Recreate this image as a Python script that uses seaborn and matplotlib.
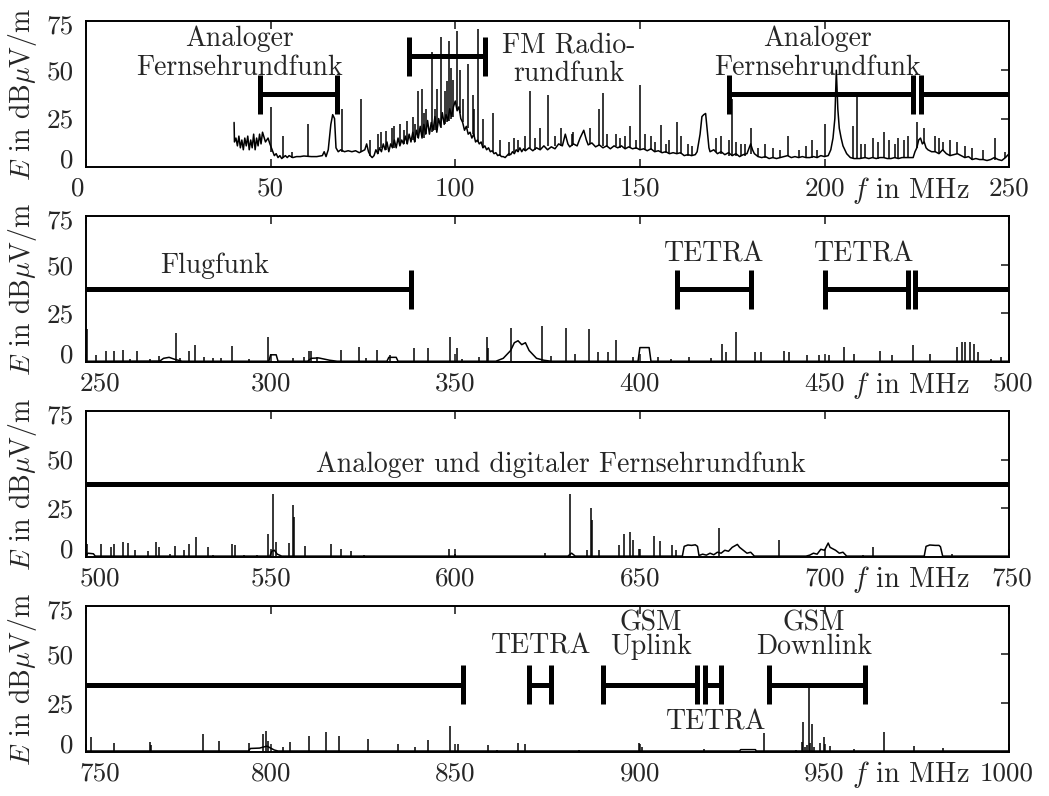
import numpy as np
import pandas as pd
import seaborn as sns
import matplotlib.pyplot as plt
import matplotlib.transforms as mtransforms

sns.set_style("ticks")
plt.rcParams['font.family'] = ['cmr10', 'DejaVu Serif']
plt.rcParams['mathtext.fontset'] = 'cm'
plt.rcParams['axes.formatter.use_mathtext'] = True
plt.rcParams['axes.unicode_minus'] = False

# frequency ranges of the four panels (MHz)
x_ranges = [(0, 250), (250, 500), (500, 750), (750, 1000)]
y_ticks = [0, 25, 50, 75]

# ---------------- panel 1: 0 - 250 MHz ----------------
p1_base = [
    (40.1, 23), (40.2, 13), (40.6, 15), (41, 11), (41.4, 16), (41.8, 10), (42.2, 14),
    (42.6, 9), (43, 15), (43.4, 11), (43.8, 16), (44.2, 9), (44.6, 14), (45, 10),
    (45.4, 17), (45.8, 9), (46.2, 15), (46.6, 11), (47, 17), (47.4, 12), (47.8, 18),
    (48.6, 13), (49.3, 15), (49.8, 12), (50.6, 8), (51, 6), (51.5, 7), (52, 5),
    (52.5, 6), (53, 4.5), (54, 6), (54.5, 5), (55, 6), (56, 5), (57, 5.5), (58, 5.5),
    (59, 5.8), (61, 5.5), (62.5, 5.5), (64, 6), (64.5, 8), (65, 5.5), (65.6, 9),
    (66.3, 22), (66.8, 27), (67.3, 25), (67.7, 10), (68.3, 8), (69, 9), (70, 8),
    (71, 8.5), (72, 8), (73, 8.5), (74, 7.5), (75.5, 9), (76, 12), (76.5, 8), (77, 6),
    (77.5, 5), (78, 6), (78.5, 9), (79, 7), (79.5, 10), (80, 8), (80.5, 12), (81, 9),
    (81.5, 13), (82, 8), (82.5, 12), (83, 10), (83.5, 14), (84, 10), (84.5, 15),
    (85, 11), (85.5, 14), (86, 12), (86.5, 16), (87, 12), (87.5, 17), (88, 13),
    (88.5, 18), (89, 13), (89.5, 19), (90, 15), (90.5, 21), (91, 15), (91.5, 22),
    (92, 17), (92.5, 24), (93, 17), (93.5, 23), (94, 19), (94.5, 26), (95, 18),
    (95.5, 25), (96, 21), (96.5, 28), (97, 22), (97.5, 27), (98, 24), (98.5, 30),
    (99, 26), (99.5, 31), (100, 34), (100.5, 29), (101, 31), (101.5, 25), (102, 23),
    (102.5, 19), (103, 21), (103.5, 17), (104, 18), (104.5, 15), (105, 17),
    (105.5, 13), (106, 14), (106.5, 12), (107, 13), (107.5, 10), (108, 11),
    (108.5, 9), (109, 10), (109.5, 8), (110, 8.5), (110.5, 7), (111, 7.5), (111.5, 6),
    (112, 6.5), (112.5, 5.5), (113, 5.5), (113.5, 5), (114, 6), (114.5, 7),
    (115, 6.5), (115.5, 8), (116, 7), (116.5, 9), (117, 8), (117.5, 10), (118, 8),
    (118.5, 9.5), (119, 8.5), (120, 10), (121, 8.5), (122, 10), (123, 9), (124, 11),
    (125, 9), (126, 10.5), (127, 9.5), (128, 12), (129, 11), (129.8, 17),
    (130.5, 12), (131, 10.5), (132, 12), (133, 11), (133.8, 15), (134.8, 19),
    (135.5, 14), (136, 11.5), (137, 12.5), (138, 10.5), (139, 11.5), (140, 10),
    (141, 11), (142, 9.5), (143, 11), (144, 10), (145, 11), (146, 9.5), (147, 10.5),
    (148, 9.5), (149, 10), (150, 9), (151, 9.5), (152, 8.5), (153, 9.5), (154, 8),
    (155, 8.5), (156, 7.5), (157, 8), (158, 7), (159, 7.5), (160, 7), (161, 7.5),
    (162, 6), (163, 6.5), (164, 6), (165, 6.5), (165.5, 8), (166.3, 17), (166.8, 26),
    (167.3, 27), (167.8, 27.6), (168.2, 20), (168.7, 10), (169, 8), (170, 9),
    (171, 7), (172, 8), (173, 6.5), (174, 7.5), (175, 6), (176, 7), (177, 5.5),
    (178, 6.5), (179, 7), (180, 12), (180.5, 9), (181, 7), (182, 5.5), (183, 5),
    (184, 5.5), (185, 4.5), (186, 5), (187, 4.5), (188, 5), (189, 5.5), (190, 6),
    (191, 5), (192, 5.5), (193, 5), (194, 5.5), (195, 5), (196, 5), (197, 5.5),
    (198, 5), (199, 6), (200, 5.5), (201, 6), (201.7, 9), (202.3, 15), (202.8, 25),
    (203.2, 49.8), (203.6, 30), (204, 20), (204.5, 15), (205, 11), (205.5, 9),
    (206, 7), (207, 5), (208, 4.5), (209.5, 4.5), (211, 5), (212, 4.5), (213, 5),
    (214, 4.5), (215, 5), (216, 5), (217, 4.5), (218, 4.5), (219, 5), (220, 4.5),
    (221, 5), (222, 5), (223, 5), (224, 5), (224.5, 8), (225, 10), (225.5, 14),
    (226, 15), (226.5, 12), (227, 13), (227.5, 10), (228, 9), (229, 8), (230, 8),
    (231, 7), (232, 9), (233, 7), (234, 6), (235, 6.5), (236, 7), (237, 6), (238, 5),
    (239, 5.5), (240, 4), (241, 4.5), (242, 4), (243, 4), (244, 3.5), (245, 4),
    (246, 5), (247, 4), (248, 3.5), (249, 5), (250, 7),
]
p1_base_f = [p[0] for p in p1_base]
p1_base_E = [p[1] for p in p1_base]

# spikes: frequency, foot level, peak level
p1_spikes = [
    (50, 8, 31), (53.4, 5, 16), (55.7, 5, 8), (60.2, 5.5, 22), (69.3, 8, 30),
    (74.5, 8, 35), (76.9, 6, 14), (79, 7, 17), (79.9, 10, 18), (81.2, 9, 18.5),
    (82.8, 11, 20), (83.3, 10, 21.4), (85.0, 12, 22), (86, 12, 19), (87, 12, 24),
    (88.6, 14, 26), (89, 13, 22), (90.0, 15, 39), (90.9, 16, 40), (91.5, 15, 28),
    (92.2, 17, 30), (93.6, 18, 59), (94.5, 19, 30), (95.1, 19, 40), (96.1, 20, 67),
    (97.2, 22, 39), (97.8, 23, 44), (98.4, 24, 65), (98.8, 25, 51), (99.5, 26, 45),
    (100.5, 30, 70), (101.3, 28, 50), (102, 23, 35), (103.5, 20, 53), (104.7, 17, 37),
    (105, 16, 30), (106.2, 13, 71), (107.5, 10, 25), (110.3, 8, 28), (112.1, 6, 14),
    (114.5, 6, 13), (116, 8, 15), (117, 8, 14), (119, 8.5, 16), (120.2, 10, 39),
    (121.5, 9, 15), (123, 9, 20), (125.1, 11, 37), (127, 11, 16), (128.5, 11, 20),
    (131.5, 11, 17), (132, 12, 18), (136.5, 12, 20), (138.9, 11, 30), (140, 11, 38),
    (141, 10.5, 17), (143.5, 11, 17), (144.5, 10, 15), (146, 9.5, 16), (147.4, 10, 21),
    (149, 9.5, 14), (150, 9, 42), (151.5, 9, 17), (153, 9, 16), (154, 8, 13),
    (155.7, 8, 21.6), (157, 7.5, 12), (158, 7, 14), (160, 7, 23), (161, 7, 16),
    (163, 6, 12), (164, 6, 11), (170.5, 8, 15), (172, 7, 16), (174, 6, 14), (175, 6, 35),
    (176, 6, 13), (177.5, 6, 12), (178.5, 6, 12), (180, 7, 20), (182, 5.5, 10),
    (184, 5, 12), (186, 5, 10), (188, 5, 9), (190, 6, 16), (193, 5, 9), (195, 5, 11),
    (196.7, 5, 14), (198, 5, 9), (200, 6, 22), (207.6, 5, 21), (208.8, 5, 36),
    (210, 5, 12), (211, 5, 12), (213.1, 5, 15), (214.5, 4.5, 13), (216.2, 5, 18),
    (217.5, 4.5, 14), (219, 5, 12), (220, 4.5, 15), (221.4, 5, 14), (222.5, 5, 16),
    (225, 10, 23), (227, 13, 20), (229.8, 8, 16), (231, 7, 15), (232, 9, 13),
    (234, 6, 14), (236, 7, 13), (238, 5, 11), (240, 4, 10), (243, 4, 9), (246.1, 4, 15),
    (249, 5, 8),
]
p1_spike_f = [s[0] for s in p1_spikes]
p1_spike_lo = [s[1] for s in p1_spikes]
p1_spike_hi = [s[2] for s in p1_spikes]

# ---------------- panel 2: 250 - 500 MHz ----------------
p2_base_f = [250, 270, 271, 272.5, 274, 276, 299.5, 300, 301.5, 302, 310, 311, 313, 316,
             318, 331.5, 332, 334, 334.5, 361, 363, 365, 366, 367, 368, 369, 370, 371,
             372, 374, 376, 399.5, 400, 402.5, 403, 500]
p2_base_E = [0.5, 0.6, 2, 2.5, 1.5, 0.5, 0.5, 3.8, 3.8, 0.5, 0.5, 2, 2.2, 1,
             0.5, 0.5, 2.5, 2.5, 0.5, 0.5, 2, 6, 10, 11, 9, 10, 6, 4,
             2, 1, 0.5, 0.5, 7.5, 7.5, 0.5, 0.5]
p2_spike_f = [250.2, 252.8, 255.3, 257.5, 260, 261.8, 263.7, 267.2, 269.7, 274.5, 275.5,
              278, 279.6, 282, 284.3, 286.5, 289.4, 294.2, 299.2, 306, 309, 310.3, 311,
              312.6, 319, 323.8, 325.7, 328.8, 332.4, 338.7, 342.7, 348.5, 350.6, 351.8,
              356.3, 358.5, 359, 365.2, 373.6, 376, 380, 382.3, 386.3, 388.6, 391.3,
              393.4, 398, 405, 408.4, 413.3, 419.2, 422.3, 423.2, 426.1, 431.3, 432.7,
              439, 440.3, 445.3, 448.4, 451.1, 455.2, 457.9, 465, 468.2, 474, 478.6,
              485.8, 487.1, 488, 489.4, 490.4, 491.6, 495.2, 497.9]
p2_spike_hi = [17, 3.8, 6, 6, 6.5, 1.7, 5.5, 1.5, 3.4, 15, 2,
               6, 8.6, 2.5, 2, 2, 8.2, 1.5, 12.8, 2, 2.5, 5.5, 5.5,
               2.5, 6.5, 7.7, 2, 6.3, 3.8, 7.4, 7.4, 12.8, 7.2, 1.7,
               2.5, 12.8, 7.5, 17.6, 18.8, 3, 17.5, 4, 17, 5, 5,
               11.6, 2.5, 2.5, 1.7, 2.5, 2, 9.4, 5, 15.4, 5.1, 5.1,
               6, 5, 3.8, 3.8, 3.8, 7.7, 4.3, 6, 3.8, 8.6, 4.3,
               7.7, 10.3, 10.3, 10.3, 9.4, 5, 1.7, 2.5]

# ---------------- panel 3: 500 - 750 MHz ----------------
p3_base_f = [500, 500.5, 502, 502.5, 549.8, 550.3, 551, 551.8, 553, 630.5, 631.5, 632.5,
             661.5, 662, 663, 664, 665, 665.6, 666, 667, 668, 669, 670, 671, 672, 673,
             674, 675, 676.4, 677, 678, 679, 680, 681, 695, 696, 697, 698, 699, 700,
             701, 701.5, 702, 703, 704, 705, 706, 727, 727.5, 728.5, 730, 731, 731.4,
             732, 750]
p3_base_E = [0.5, 2, 1.7, 0.5, 0.5, 3, 3.5, 1.5, 0.5, 0.5, 2, 0.5,
             0.5, 5.5, 6.2, 6, 6.3, 5.5, 0.8, 1.5, 1, 2, 1.2, 2.5, 2, 3.5,
             3, 5, 6.5, 5, 3.5, 2, 2.5, 0.5, 0.5, 1, 2, 1.5, 4, 3.5,
             7.2, 5, 4.5, 3.5, 2, 2.5, 0.5, 0.5, 5.5, 6.2, 6, 6, 5.3,
             0.5, 0.5]
p3_spike_f = [500.3, 504.1, 506.8, 507.7, 510, 511.3, 513.4, 516.7, 519, 519.7, 522.8,
              524.1, 526.6, 527.8, 529.8, 533.1, 534.3, 539.5, 540.3, 542.8, 546.2,
              549.4, 550.7, 551.4, 555, 556.1, 556.4, 559.3, 566.4, 569.1, 571.8, 575.2,
              598.3, 599.9, 624.4, 631.2, 635.7, 636.8, 637.1, 639, 644.4, 645.8, 647.3,
              648.2, 649.8, 653.7, 655.5, 658.6, 659.7, 671.4, 687.6, 710.5, 713.1, 734.4]
p3_spike_hi = [6.5, 6.8, 5.1, 6.8, 7.7, 7.4, 3.8, 3.1, 7.7, 5.1, 1.7,
               5.7, 3.8, 6.5, 10.3, 5.1, 0.9, 6.8, 6, 1.2, 1.2,
               12, 32.5, 7.7, 7.2, 26.5, 20.5, 5.5, 6.8, 3.9, 3.1, 0.9,
               4.3, 1.7, 2, 32.2, 3.4, 25.3, 18.8, 3.8, 6, 11.6, 12.8,
               8.6, 4.3, 10.8, 8.2, 6, 3.4, 14.9, 8.6, 1.2, 5.1, 1.7]

# ---------------- panel 4: 750 - 1000 MHz ----------------
p4_base_f = [750, 794, 794.5, 797, 799, 800, 801, 802, 927, 927.3, 931.3, 931.5, 1000]
p4_base_E = [0.5, 0.5, 1.8, 2, 3, 2, 1, 0.5, 0.5, 1.2, 1.2, 0.5, 0.5]
p4_spike_f = [751.4, 757.7, 767.2, 767.6, 775.3, 781.6, 786, 794.2, 797.8, 798.7, 799.4,
              803.4, 805.2, 810.3, 815, 818.4, 826.3, 834.6, 839.1, 842.7, 848.5, 850.8,
              858.9, 861.2, 866.9, 868.8, 876.9, 883.6, 899.8, 900.7, 917.4, 933.6,
              942.4, 943.9, 944.2, 944.6, 945.3, 945.9, 946.2, 946.7, 947.1, 948.9,
              949.8, 951.6, 957.9, 966, 974.1, 982.2]
p4_spike_hi = [7.8, 4.4, 5.2, 3.5, 0.7, 9.1, 5.6, 4.7, 9.1, 10.8, 5.5,
               2.4, 5.2, 8.1, 10, 8.4, 6.8, 4, 2.7, 6.1, 13.5, 4,
               3.5, 1, 4.4, 4, 0.7, 1, 4.7, 2.7, 1.4, 9.5,
               1, 5.2, 15.4, 2.7, 3.5, 33.1, 4.4, 14.5, 2.7, 4.4,
               7.8, 3, 1.3, 10.3, 3, 1.8]
floor_level = 0.5

# frequency allocations: (start, end, level) per panel
bands = [
    [(47, 68, 37.5), (87.5, 108, 57), (174, 224, 37.5), (226, 338, 37.5)],
    [(226, 338, 37.5), (410, 430, 37.5), (450, 472.5, 37.5), (474.5, 852, 37.5)],
    [(474.5, 852, 37.5)],
    [(474.5, 852, 34.5), (870, 876, 34.5), (890, 915.5, 34.5), (917.5, 922, 34.5),
     (935, 961, 34.5)],
]
cap_half = 10

# band labels: (frequency, level, text)
labels = [
    [(41.5, 62.3, 'Analoger'), (41.5, 47.2, 'Fernsehrundfunk'),
     (130.8, 59, 'FM Radio-'), (130.8, 44.3, 'rundfunk'),
     (198, 62.3, 'Analoger'), (198, 47.2, 'Fernsehrundfunk')],
    [(284.7, 45.9, 'Flugfunk'), (420, 51.4, 'TETRA'), (460.6, 51.4, 'TETRA')],
    [(628.5, 43.5, 'Analoger und digitaler Fernsehrundfunk')],
    [(873.2, 50.5, 'TETRA'), (903, 62.2, 'GSM'), (903, 50, 'Uplink'),
     (947.2, 62.2, 'GSM'), (947.2, 50, 'Downlink'), (920.6, 11.7, 'TETRA')],
]

traces = [
    (p1_base_f, p1_base_E, p1_spike_f, p1_spike_lo, p1_spike_hi),
    (p2_base_f, p2_base_E, p2_spike_f, floor_level, p2_spike_hi),
    (p3_base_f, p3_base_E, p3_spike_f, floor_level, p3_spike_hi),
    (p4_base_f, p4_base_E, p4_spike_f, floor_level, p4_spike_hi),
]

# label nudges in pixels (first x label, last x label)
first_dx = [-8, 14, 14, 14]
last_dx = [0, 4, 3, -2]

fig, axes = plt.subplots(4, 1, figsize=(10.49, 7.96), dpi=100)
fig.subplots_adjust(left=0.082, right=0.962, top=0.9736, bottom=0.0553, hspace=0.332)

def nudge(label, dx, dy):
    off = mtransforms.ScaledTranslation(dx / 100, dy / 100, fig.dpi_scale_trans)
    label.set_transform(label.get_transform() + off)

for i, ax in enumerate(axes):
    bf, bE, sf, slo, shi = traces[i]
    sns.lineplot(x=bf, y=bE, ax=ax, color='k', lw=1.1, estimator=None, sort=False)
    ax.vlines(sf, slo, shi, color='k', lw=1.1)

    lo_, hi_ = x_ranges[i]
    for s, e, lev in bands[i]:
        ax.hlines(lev, max(s, lo_), min(e, hi_), color='k', lw=3.6)
        caps = [c for c in (s, e) if lo_ < c < hi_]
        if caps:
            ax.vlines(caps, lev - cap_half, lev + cap_half, color='k', lw=3.6)

    for fx, ey, txt in labels[i]:
        ax.text(fx, ey, txt, ha='center', va='baseline', fontsize=20)

    ax.set_xlim(lo_, hi_)
    ax.set_ylim(0, 75)
    ticks = list(range(lo_, hi_ + 1, 50))
    ax.set_xticks(ticks)
    ax.set_xticklabels([str(t) for t in ticks])
    ax.set_yticks(y_ticks)
    ax.set_yticklabels([str(t) for t in y_ticks])
    ax.tick_params(axis='both', direction='in', length=6, width=1.2, labelsize=19.5,
                   top=True, right=True, left=False, bottom=True)
    ax.tick_params(axis='x', pad=7)
    ax.tick_params(axis='y', pad=9)
    for sp in ax.spines.values():
        sp.set_linewidth(1.4)
        sp.set_color('k')

    ax.set_ylabel(r'$E$ in dB$\mu$V/m', fontsize=20, labelpad=5)
    ax.set_xlabel(r'$f$ in MHz', fontsize=20.5)
    ax.xaxis.set_label_coords(0.893, -0.05)

    xt = ax.xaxis.get_major_ticks()
    nudge(xt[0].label1, first_dx[i], 0)
    nudge(xt[-1].label1, last_dx[i], 0)
    yt = ax.yaxis.get_major_ticks()
    nudge(yt[0].label1, 0, 9)
    nudge(yt[-1].label1, 0, -3)

fig.savefig('out.png', dpi=100)
